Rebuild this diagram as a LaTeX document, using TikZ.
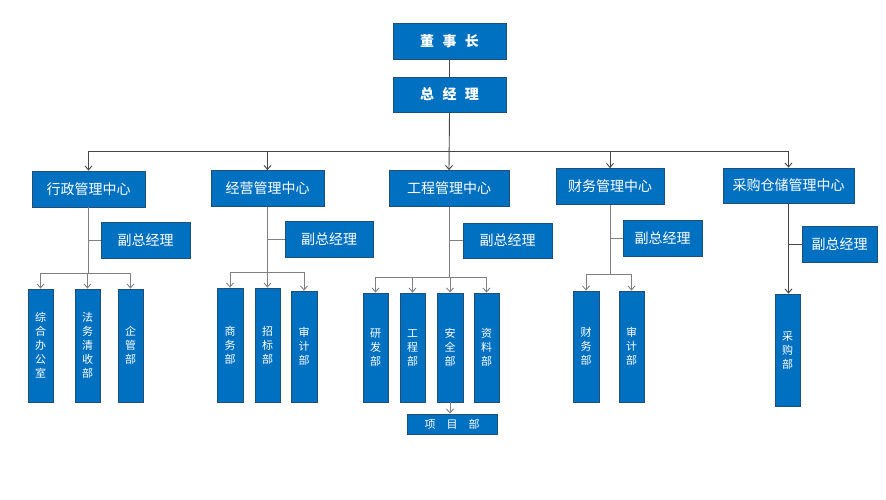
\documentclass[tikz,border=0pt]{standalone}
\usepackage{fontspec}
\newfontfamily\cjk{Noto Sans CJK SC}
\usetikzlibrary{arrows.meta}
\definecolor{boxblue}{RGB}{0,112,192}
\definecolor{boxedge}{RGB}{31,78,121}
\definecolor{mainline}{RGB}{70,70,70}
\definecolor{grpline}{RGB}{128,128,128}
\tikzset{
  box/.style={draw=boxedge, line width=0.8pt, fill=boxblue, text=white, inner sep=0pt, anchor=center},
  topbox/.style={box, minimum width=113pt, minimum height=36pt, font=\cjk\fontsize{14}{16}\selectfont\bfseries},
  ctrbox/.style={box, minimum height=36pt, font=\cjk\fontsize{14}{16}\selectfont},
  vicebox/.style={box, minimum height=36pt, font=\cjk\fontsize{14}{16}\selectfont},
  deptbox/.style={box, minimum width=25pt, align=center, font=\cjk\fontsize{11}{14}\selectfont},
  mline/.style={draw=mainline, line width=0.9pt},
  gline/.style={draw=grpline, line width=0.9pt},
  arr/.style={-{Straight Barb[length=4pt,width=7pt]}},
}
\begin{document}
\begin{tikzpicture}[x=1pt,y=-1pt]
\useasboundingbox[fill=white] (0,0) rectangle (886,500);
% top
\node[topbox] (t1) at (449.5,41) {董\hspace{0.6em}事\hspace{0.6em}长};
\node[topbox, minimum height=35pt] (t2) at (449.5,94.5) {总\hspace{0.6em}经\hspace{0.6em}理};
% centers
\node[ctrbox, minimum width=113pt] (c1) at (88.5,189) {行政管理中心};
\node[ctrbox, minimum width=113pt] (c2) at (267.5,188.5) {经营管理中心};
\node[ctrbox, minimum width=120pt] (c3) at (449,188.5) {工程管理中心};
\node[ctrbox, minimum width=108pt] (c4) at (610,186.5) {财务管理中心};
\node[ctrbox, minimum width=131pt, minimum height=35pt] (c5) at (788.5,185.5) {采购仓储管理中心};
% vice
\node[vicebox, minimum width=89pt] (v1) at (145.5,240) {副总经理};
\node[vicebox, minimum width=88pt] (v2) at (329,239) {副总经理};
\node[vicebox, minimum width=89pt, minimum height=35pt] (v3) at (507.5,240.5) {副总经理};
\node[vicebox, minimum width=79pt] (v4) at (662.5,238) {副总经理};
\node[vicebox, minimum width=75pt] (v5) at (839.5,244) {副总经理};
% depts group 1
\node[deptbox, minimum height=113pt] (d11) at (40.5,345.5) {综\\合\\办\\公\\室};
\node[deptbox, minimum height=113pt] (d12) at (87.5,345.5) {法\\务\\清\\收\\部};
\node[deptbox, minimum height=113pt] (d13) at (130.5,345.5) {企\\管\\部};
% group 2
\node[deptbox, minimum width=26pt, minimum height=114pt] (d21) at (230,345) {商\\务\\部};
\node[deptbox, minimum height=114pt] (d22) at (267.5,345) {招\\标\\部};
\node[deptbox, minimum width=26pt, minimum height=111pt] (d23) at (304,346.5) {审\\计\\部};
% group 3
\node[deptbox, minimum height=109pt] (d31) at (375.5,347.5) {研\\发\\部};
\node[deptbox, minimum height=109pt] (d32) at (412.5,347.5) {工\\程\\部};
\node[deptbox, minimum width=26pt, minimum height=109pt] (d33) at (450,347.5) {安\\全\\部};
\node[deptbox, minimum height=109pt] (d34) at (486.5,347.5) {资\\料\\部};
\node[box, minimum width=90pt, minimum height=20pt, font=\cjk\fontsize{11}{13}\selectfont] (p3) at (452,424) {项\hspace{1em}目\hspace{1em}部};
% group 4
\node[deptbox, minimum width=26pt, minimum height=111pt] (d41) at (586,346.5) {财\\务\\部};
\node[deptbox, minimum height=111pt] (d42) at (631.5,346.5) {审\\计\\部};
% group 5
\node[deptbox, minimum height=112pt] (d51) at (787.5,350) {采\\购\\部};

% main connectors
\coordinate (bus) at (449.5,151);
\draw[mline] (t1.south) -- (t2.north);
\draw[mline, arr] (t2.south) -- (c3.north);
\draw[mline, arr] (bus) -| (c1.north);
\draw[mline, arr] (bus) -| (c2.north);
\draw[mline, arr] (bus) -| (c4.north);
\draw[mline, arr] (bus) -| (c5.north);

% group 1
\coordinate (g1) at (88.5,273);
\draw[gline] (c1.south) -- (g1);
\draw[gline] (c1.south |- v1.west) -- (v1.west);
\draw[gline, arr] (g1) -| (d11.north);
\draw[gline, arr] (g1) -| (d12.north);
\draw[gline, arr] (g1) -| (d13.north);
% group 2
\coordinate (g2) at (267.5,272);
\draw[gline] (c2.south) -- (g2);
\draw[gline] (c2.south |- v2.west) -- (v2.west);
\draw[gline, arr] (g2) -| (d21.north);
\draw[gline, arr] (g2) -- (d22.north);
\draw[gline, arr] (g2) -| (d23.north);
% group 3
\coordinate (g3) at (449,277);
\draw[gline] (c3.south) -- (g3);
\draw[gline] (c3.south |- v3.west) -- (v3.west);
\draw[gline, arr] (g3) -| (d31.north);
\draw[gline, arr] (g3) -| (d32.north);
\draw[gline, arr] (g3) -| (d33.north);
\draw[gline, arr] (g3) -| (d34.north);
\draw[gline, arr] (d33.south) -- (p3.north -| d33.south);
% group 4
\coordinate (g4) at (610,274);
\draw[gline] (c4.south) -- (g4);
\draw[gline] (c4.south |- v4.west) -- (v4.west);
\draw[gline, arr] (g4) -| (d41.north);
\draw[gline, arr] (g4) -| (d42.north);
% group 5
\draw[mline] (c5.south |- v5.west) -- (v5.west);
\draw[mline, arr] (c5.south) -- (d51.north -| c5.south);
\end{tikzpicture}
\end{document}
